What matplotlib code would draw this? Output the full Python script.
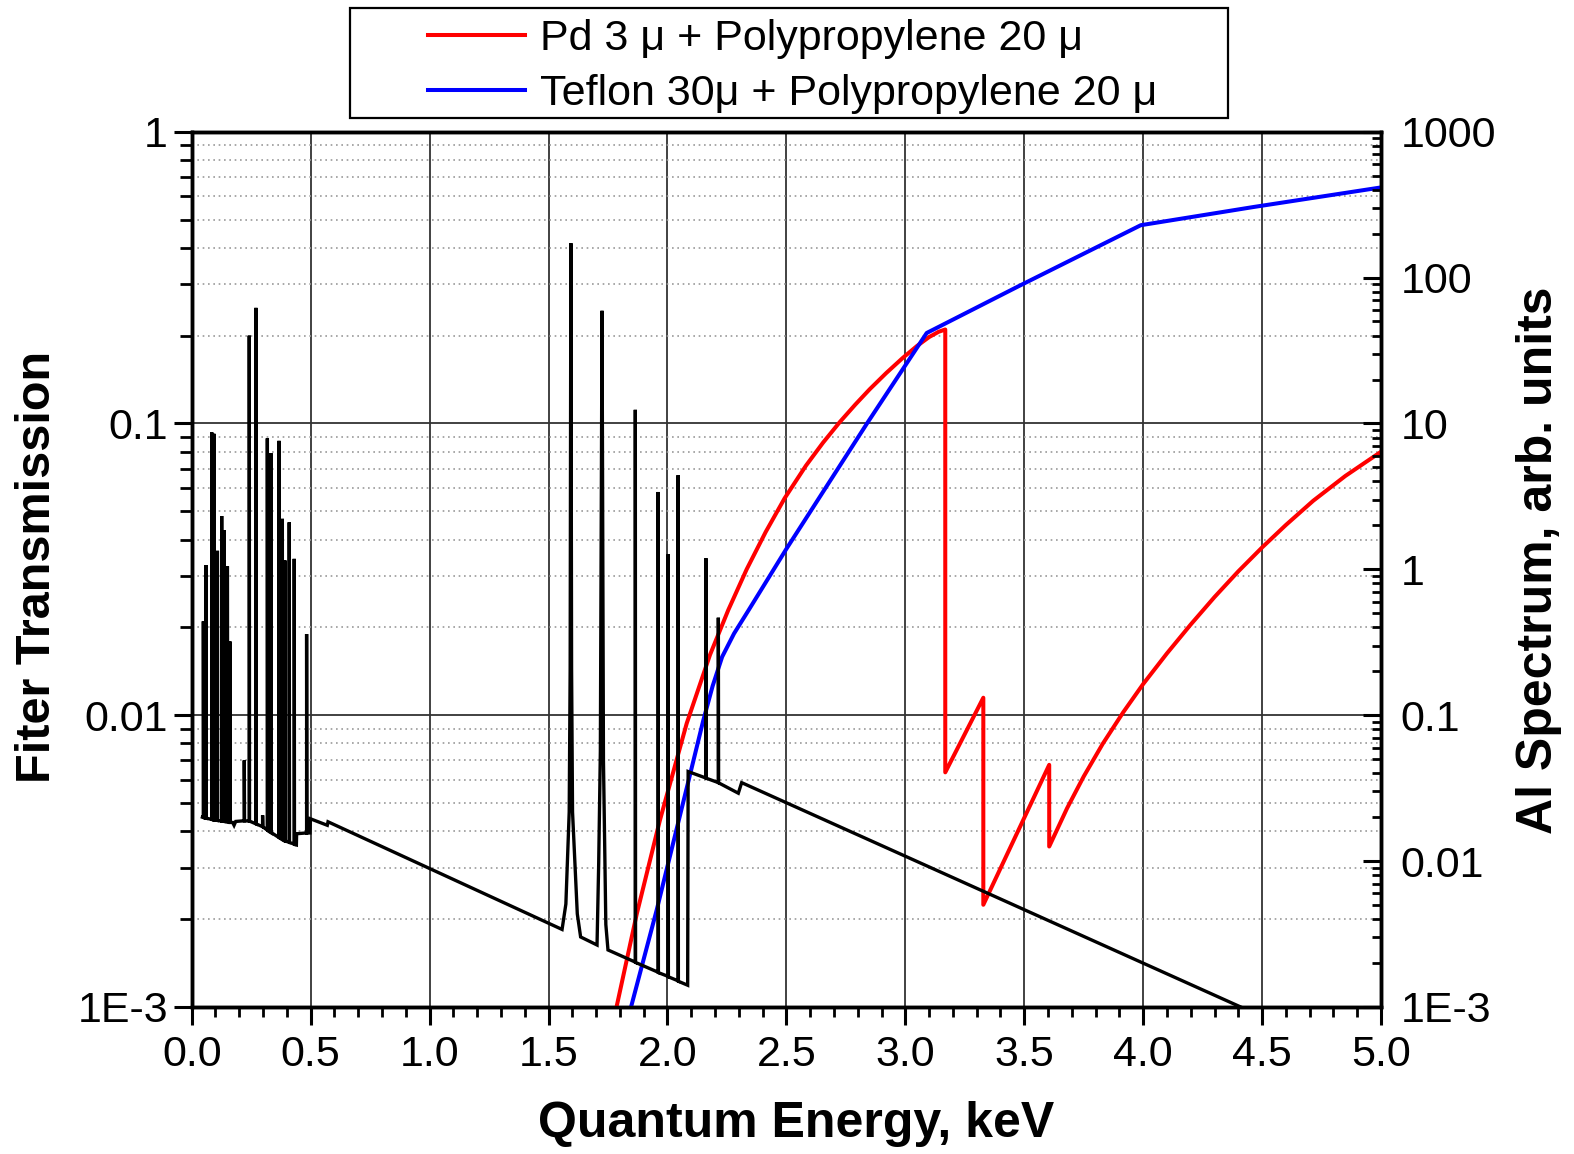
import numpy as np
import matplotlib
matplotlib.use("Agg")
import matplotlib.pyplot as plt
import matplotlib.ticker as ticker
from matplotlib.patches import Rectangle

plt.rcParams['font.family'] = ['Liberation Sans', 'DejaVu Sans']

# Filter transmission curves (left axis)
pd_energy = [1.786, 1.871, 1.968, 2.081, 2.179, 2.256, 2.333, 2.413, 2.493, 2.582,
             2.654, 2.725, 2.790, 2.850, 2.920, 2.990, 3.050, 3.100, 3.140, 3.168,
             3.168, 3.328, 3.328, 3.605, 3.605, 3.680, 3.750, 3.830, 3.916, 4.000,
             4.100, 4.200, 4.300, 4.400, 4.500, 4.600, 4.715, 4.850, 5.000]
pd_trans = [0.00100, 0.002084, 0.004355, 0.009376, 0.01611, 0.02296, 0.03162, 0.04246, 0.05546, 0.07161,
            0.0859, 0.1012, 0.1161, 0.1309, 0.1489, 0.1679, 0.1845, 0.1977, 0.2061, 0.2099,
            0.00637, 0.01148, 0.00224, 0.00676, 0.003548, 0.004797, 0.006166, 0.00798, 0.01023, 0.01279,
            0.01629, 0.02046, 0.02541, 0.03112, 0.03758, 0.04487, 0.05433, 0.06607, 0.07998]

teflon_energy = [1.847, 1.955, 2.087, 2.150, 2.190, 2.230, 2.280, 2.342, 2.500, 2.839,
                 3.090, 3.475, 3.990, 4.465, 5.000]
teflon_trans = [0.00100, 0.002153, 0.005888, 0.00955, 0.01259, 0.01585, 0.01905, 0.02296, 0.03715, 0.1000,
                0.2042, 0.295, 0.478, 0.552, 0.644]

# Al spectrum (right axis)
al_energy = [0.045, 0.049, 0.049, 0.050,
             0.060, 0.060, 0.061,
             0.084, 0.084, 0.086,
             0.093, 0.093, 0.095,
             0.108, 0.108, 0.109,
             0.126, 0.126, 0.127,
             0.137, 0.137, 0.138,
             0.150, 0.150, 0.151,
             0.161, 0.161, 0.162,
             0.172, 0.178, 0.185,
             0.221, 0.221, 0.222,
             0.242, 0.242, 0.243,
             0.270, 0.270, 0.271,
             0.298, 0.298, 0.299,
             0.318, 0.318, 0.319,
             0.333, 0.333, 0.334,
             0.367, 0.367, 0.368,
             0.381, 0.381, 0.382,
             0.392, 0.392, 0.393,
             0.410, 0.410, 0.411,
             0.431, 0.431, 0.432,
             0.440, 0.441,
             0.483, 0.483, 0.484,
             0.497, 0.499,
             0.570, 0.573,
             1.557, 1.573, 1.587, 1.591, 1.594, 1.597, 1.601, 1.621, 1.635,
             1.704, 1.711, 1.718, 1.725, 1.731, 1.741, 1.750,
             1.865, 1.865, 1.866,
             1.961, 1.961, 1.962,
             2.003, 2.003, 2.004,
             2.045, 2.045, 2.046,
             2.085, 2.087,
             2.162, 2.162, 2.163,
             2.214, 2.214, 2.215,
             2.298, 2.312,
             4.41]
al_spec = [0.0200, 0.0199, 0.44, 0.0199,
           0.0197, 1.07, 0.0197,
           0.0193, 8.7, 0.0193,
           0.0192, 8.5, 0.0191,
           0.0190, 1.34, 0.0190,
           0.0188, 2.32, 0.0188,
           0.0187, 1.85, 0.0187,
           0.0186, 1.05, 0.0186,
           0.0185, 0.32, 0.0184,
           0.0184, 0.0176, 0.0187,
           0.0189, 0.049, 0.0189,
           0.0188, 40, 0.0188,
           0.0180, 62, 0.0180,
           0.0172, 0.0206, 0.0172,
           0.0163, 7.9, 0.0163,
           0.0157, 6.25, 0.0157,
           0.0145, 7.6, 0.0145,
           0.0141, 2.22, 0.0140,
           0.0138, 1.15, 0.0137,
           0.0135, 2.1, 0.0134,
           0.0131, 1.18, 0.0130,
           0.0129, 0.0154,
           0.0156, 0.36, 0.0156,
           0.0156, 0.0195,
           0.0176, 0.0186,
           0.0034, 0.00508, 0.0217, 0.208, 172, 0.208, 0.0217, 0.00435, 0.00302,
           0.00266, 0.0097, 0.057, 59.2, 0.0487, 0.00368, 0.00246,
           0.00203, 12.4, 0.00202,
           0.00173, 3.39, 0.00172,
           0.00162, 1.27, 0.00161,
           0.00151, 4.42, 0.0015,
           0.00141, 0.0411,
           0.0371, 1.19, 0.0370,
           0.0345, 0.466, 0.0344,
           0.0292, 0.0345,
           0.0010]

left_ticks = [1e-3, 1e-2, 1e-1, 1]
left_labels = ["1E-3", "0.01", "0.1", "1"]
right_ticks = [1e-3, 1e-2, 1e-1, 1, 10, 100, 1000]
right_labels = ["1E-3", "0.01", "0.1", "1", "10", "100", "1000"]

legend_labels = ["Pd 3 \u03bc + Polypropylene 20 \u03bc", "Teflon 30\u03bc + Polypropylene 20 \u03bc"]

fig = plt.figure(figsize=(15.74, 11.54), dpi=100)
ax = fig.add_axes([0.1218, 0.1274, 0.7556, 0.7585])
ax2 = ax.twinx()

l1, = ax.plot(pd_energy, pd_trans, color='#ff0000', lw=2.9, zorder=3)
l2, = ax.plot(teflon_energy, teflon_trans, color='#0000ff', lw=2.9, zorder=3)
ax2.plot(al_energy, al_spec, color='black', lw=2.4, solid_joinstyle='miter')

ax.set_xlim(0, 5)
ax.set_yscale('log')
ax.set_ylim(1e-3, 1)
ax2.set_yscale('log')
ax2.set_ylim(1e-3, 1000)

# x axis ticks
ax.xaxis.set_major_locator(ticker.MultipleLocator(0.5))
ax.xaxis.set_minor_locator(ticker.MultipleLocator(0.1))
ax.xaxis.set_major_formatter(ticker.FormatStrFormatter('%.1f'))

# left axis
ax.yaxis.set_major_locator(ticker.FixedLocator(left_ticks))
ax.yaxis.set_major_formatter(ticker.FixedFormatter(left_labels))
ax.yaxis.set_minor_locator(ticker.LogLocator(base=10, subs=np.arange(2, 10), numticks=20))
ax.yaxis.set_minor_formatter(ticker.NullFormatter())

# right axis
ax2.yaxis.set_major_locator(ticker.FixedLocator(right_ticks))
ax2.yaxis.set_major_formatter(ticker.FixedFormatter(right_labels))
ax2.yaxis.set_minor_locator(ticker.LogLocator(base=10, subs=np.arange(2, 10), numticks=20))
ax2.yaxis.set_minor_formatter(ticker.NullFormatter())

ax.tick_params(axis='x', which='major', direction='out', length=13, width=2.2,
               labelsize=31, pad=7, top=False)
ax.tick_params(axis='x', which='minor', direction='out', length=7.5, width=2.0, top=False)
ax.tick_params(axis='y', which='major', direction='out', length=13, width=2.2,
               labelsize=31, pad=4, right=False)
ax.tick_params(axis='y', which='minor', direction='out', length=8.5, width=2.0, right=False)
ax2.tick_params(axis='y', which='major', direction='in', length=13, width=2.2,
                labelsize=31, pad=14)
ax2.tick_params(axis='y', which='minor', direction='in', length=6.5, width=2.0)

for a in (ax, ax2):
    for s in a.spines.values():
        s.set_linewidth(2.5)

ax.set_axisbelow(True)
ax.grid(which='major', axis='both', color='#333333', lw=1.3)
ax.grid(which='minor', axis='y', color='#9a9a9a', lw=1.2, ls=(0, (1, 2.2)))

fig.text(0.5057, 0.026, "Quantum Energy, keV", fontsize=36, fontweight='bold',
         ha='center', va='center')
fig.text(0.0241, 0.5087, "Fiter Transmission", fontsize=35, fontweight='bold',
         ha='center', va='center', rotation=90)
fig.text(0.9775, 0.5147, "Al Spectrum, arb. units", fontsize=36, fontweight='bold',
         ha='center', va='center', rotation=90)

leg = fig.legend([l1, l2], legend_labels, loc='upper left',
                 bbox_to_anchor=(428 / 1574, 1 - 19 / 1154), bbox_transform=fig.transFigure,
                 frameon=False, fontsize=31, handlelength=2.25, handletextpad=0.35,
                 labelspacing=0.36, borderpad=0, borderaxespad=0)
fig.patches.append(Rectangle((350 / 1574, 1 - 118 / 1154), 878 / 1574, 110 / 1154,
                             transform=fig.transFigure, fill=False, edgecolor='black',
                             lw=1.6, zorder=5))

fig.savefig("out.png", dpi=100)
